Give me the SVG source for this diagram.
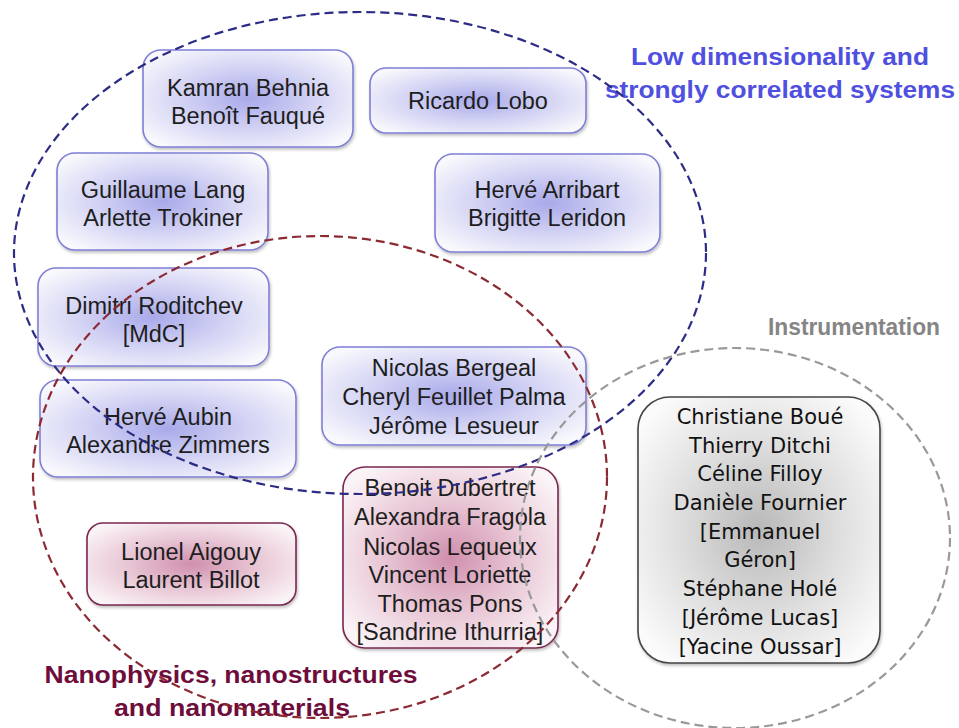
<svg xmlns="http://www.w3.org/2000/svg" width="959" height="728" viewBox="0 0 959 728">
<defs>
<radialGradient id="gBlue" cx="50%" cy="50%" r="62%">
<stop offset="0" stop-color="#a9a9ea"/>
<stop offset="0.5" stop-color="#d2d2f4"/>
<stop offset="1" stop-color="#f8f8fd"/>
</radialGradient>
<radialGradient id="gRed" cx="50%" cy="50%" r="62%">
<stop offset="0" stop-color="#d08fae"/>
<stop offset="0.5" stop-color="#e8c6d5"/>
<stop offset="1" stop-color="#fbf4f7"/>
</radialGradient>
<radialGradient id="gGray" cx="50%" cy="50%" r="62%">
<stop offset="0" stop-color="#b8b8b8"/>
<stop offset="0.5" stop-color="#dcdcdc"/>
<stop offset="1" stop-color="#fbfbfb"/>
</radialGradient>
<filter id="sh" x="-10%" y="-10%" width="125%" height="130%">
<feDropShadow dx="1" dy="2" stdDeviation="1.5" flood-color="#000" flood-opacity="0.25"/>
</filter>
<style>
.bb{fill:url(#gBlue);stroke:#7f7fd6;stroke-width:1.6;filter:url(#sh)}
.rb{fill:url(#gRed);stroke:#7a2850;stroke-width:1.6;filter:url(#sh)}
.gb{fill:url(#gGray);stroke:#444;stroke-width:1.6;filter:url(#sh)}
.t{font-family:"Liberation Sans",Arial,sans-serif;font-size:23.5px;fill:#1e1e1e;text-anchor:middle}
.c{font-family:"DejaVu Sans","Noto Sans",sans-serif;font-size:21px;fill:#111;text-anchor:middle}
.lab{font-family:"Liberation Sans",Arial,sans-serif;font-weight:bold;font-size:23px;text-anchor:middle}
.set{fill:none;stroke-width:2.2;stroke-dasharray:9 5}
</style>
</defs>
<rect width="959" height="728" fill="#fff"/>

<g id="n-behnia"><rect class="bb" x="143" y="50" width="210" height="97" rx="18"/>
<text class="t" x="248" y="96">Kamran Behnia</text><text class="t" x="248" y="124">Benoît Fauqué</text></g>
<g id="n-lobo"><rect class="bb" x="370" y="68" width="216" height="65" rx="16"/>
<text class="t" x="478" y="109">Ricardo Lobo</text></g>
<g id="n-lang"><rect class="bb" x="57" y="153" width="211" height="97" rx="18"/>
<text class="t" x="163" y="198">Guillaume Lang</text><text class="t" x="163" y="226">Arlette Trokiner</text></g>
<g id="n-arribart"><rect class="bb" x="435" y="154" width="225" height="98" rx="18"/>
<text class="t" x="547" y="198">Hervé Arribart</text><text class="t" x="547" y="226">Brigitte Leridon</text></g>
<g id="n-roditchev"><rect class="bb" x="38" y="268" width="231" height="98" rx="18"/>
<text class="t" x="154" y="314">Dimitri Roditchev</text><text class="t" x="154" y="342">[MdC]</text></g>
<g id="n-aubin"><rect class="bb" x="40" y="380" width="256" height="97" rx="18"/>
<text class="t" x="168" y="425">Hervé Aubin</text><text class="t" x="168" y="453">Alexandre Zimmers</text></g>
<g id="n-bergeal"><rect class="bb" x="322" y="347" width="264" height="98" rx="18"/>
<text class="t" x="454" y="376">Nicolas Bergeal</text><text class="t" x="454" y="405">Cheryl Feuillet Palma</text><text class="t" x="454" y="434">Jérôme Lesueur</text></g>
<g id="n-aigouy"><rect class="rb" x="87" y="523" width="209" height="82" rx="16"/>
<text class="t" x="191" y="560">Lionel Aigouy</text><text class="t" x="191" y="588">Laurent Billot</text></g>
<g id="n-dubertret"><rect class="rb" x="343" y="467" width="215" height="181" rx="22"/>
<text class="t" x="450" y="496">Benoit Dubertret</text><text class="t" x="450" y="525">Alexandra Fragola</text><text class="t" x="450" y="555">Nicolas Lequeux</text><text class="t" x="450" y="583">Vincent Loriette</text><text class="t" x="450" y="612">Thomas Pons</text><text class="t" x="450" y="640">[Sandrine Ithurria]</text></g>
<g id="n-instrumentation"><rect class="gb" x="638" y="397" width="242" height="266" rx="32"/>
<text class="c" x="760" y="424">Christiane Boué</text><text class="c" x="760" y="453">Thierry Ditchi</text><text class="c" x="760" y="481">Céline Filloy</text><text class="c" x="760" y="510">Danièle Fournier</text><text class="c" x="760" y="539">[Emmanuel</text><text class="c" x="760" y="567">Géron]</text><text class="c" x="760" y="596">Stéphane Holé</text><text class="c" x="760" y="625">[Jérôme Lucas]</text><text class="c" x="760" y="654">[Yacine Oussar]</text></g>

<g id="labels">
<text class="lab" x="780" y="65" fill="#4f4fe0" textLength="298" lengthAdjust="spacingAndGlyphs">Low dimensionality and</text>
<text class="lab" x="780" y="98" fill="#4f4fe0" textLength="350" lengthAdjust="spacingAndGlyphs">strongly correlated systems</text>
<text class="lab" x="854" y="335" fill="#858585" textLength="172" lengthAdjust="spacingAndGlyphs">Instrumentation</text>
<text class="lab" x="231" y="683" fill="#6e0c3c" textLength="373" lengthAdjust="spacingAndGlyphs">Nanophysics, nanostructures</text>
<text class="lab" x="232" y="716" fill="#6e0c3c" textLength="236" lengthAdjust="spacingAndGlyphs">and nanomaterials</text>
</g>

<g id="connectors">
<ellipse class="set" cx="360" cy="253" rx="346" ry="241" stroke="#2c2c86"/>
<ellipse class="set" cx="320" cy="477" rx="287" ry="241" stroke="#8c2a33"/>
<ellipse class="set" cx="735" cy="538" rx="215" ry="190" stroke="#999" stroke-width="1.8"/>
</g>
</svg>
